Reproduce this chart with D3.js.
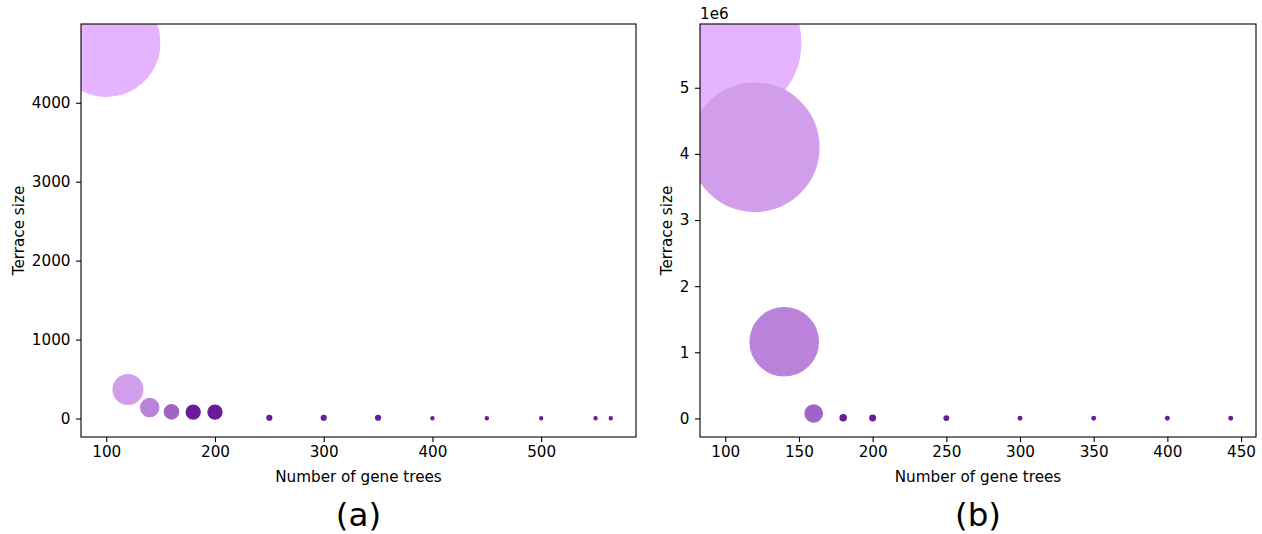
<!DOCTYPE html>
<html>
<head>
<meta charset="utf-8">
<script src="https://cdn.jsdelivr.net/npm/d3@7"></script>
<style>
  body { margin: 0; background: white; }
  text { font-family: "DejaVu Sans", sans-serif; fill: black; }
</style>
</head>
<body>
<div id="chart"></div>
<script>
// panel (a)
const treesA = [100, 120, 140, 160, 180, 200, 250, 300, 350, 400, 450, 500, 550, 564]
const terraceA = [4760, 367, 139, 85, 82, 82, 10, 10, 10, 4, 4, 4, 4, 4]

// panel (b)
const treesB = [100, 120, 140, 160, 180, 200, 250, 300, 350, 400, 443]
const terraceB = [5680000, 4100000, 1160000, 75000, 9600, 7800, 5300, 3300, 3300, 3300, 3300]

const xTitle = "Number of gene trees"
const yTitle = "Terrace size"

const W = 1262, H = 534
const fs = "15.2px"

const svg = d3.select("#chart").append("svg")
    .attr("width", W)
    .attr("height", H)

// colour goes from light lavender (few gene trees) to deep purple
const color = d3.scaleLinear()
    .domain([100, 120, 140, 160, 180])
    .range(["#e6b4ff", "#d29eec", "#bb82dc", "#a164c6", "#6a1b9a"])
    .clamp(true)

function padded(vals) {
    const [lo, hi] = d3.extent(vals)
    const m = (hi - lo) * 0.05
    return [lo - m, hi + m]
}

function panel(opts) {
    const {left, right, top, bottom, xs, ys, rmax, xTicks, yTicks, yFormat, label, id, exponent} = opts
    const data = xs.map((x, i) => ({trees: x, terrace: ys[i]}))
    const w = right - left, h = bottom - top

    const g = svg.append("g").attr("transform", `translate(${left},${top})`)

    const x = d3.scaleLinear().domain(padded(xs)).range([0, w])
    const y = d3.scaleLinear().domain(padded(ys)).range([h, 0])
    const r = d3.scaleSqrt().domain([0, d3.max(ys)]).range([0, rmax])

    g.append("clipPath").attr("id", id)
        .append("rect").attr("width", w).attr("height", h)

    g.append("g")
        .attr("clip-path", `url(#${id})`)
        .selectAll("circle")
        .data(data)
        .join("circle")
            .attr("cx", d => x(d.trees))
            .attr("cy", d => y(d.terrace))
            .attr("r", d => r(d.terrace))
            .attr("fill", d => color(d.trees))
            .attr("stroke", d => color(d.trees))
            .attr("stroke-width", 1.3)

    const xAx = d3.axisBottom(x).ticks(xTicks).tickSize(5).tickPadding(4).tickFormat(d3.format("d"))
    const yAx = d3.axisLeft(y).ticks(yTicks).tickSize(5).tickPadding(5.5)
        .tickFormat(yFormat || d3.format("d"))

    const xGroup = g.append("g")
        .attr("transform", `translate(0,${h})`)
        .call(xAx)
    const yGroup = g.append("g").call(yAx)

    for (const ag of [xGroup, yGroup]) {
        ag.select(".domain").remove()
        ag.attr("font-size", null).attr("font-family", null)
        ag.selectAll(".tick line").attr("stroke", "black").attr("stroke-width", 1.1)
        ag.selectAll(".tick text")
            .style("font-size", fs)
            .attr("fill", "black")
    }

    // axes frame
    g.append("rect")
        .attr("width", w).attr("height", h)
        .attr("fill", "none")
        .attr("stroke", "black")
        .attr("stroke-width", 1.1)

    g.append("text")
        .attr("x", w / 2)
        .attr("y", h + 45)
        .attr("text-anchor", "middle")
        .style("font-size", fs)
        .text(xTitle)

    // y title sits just left of the widest tick label
    const yLabLeft = yGroup.node().getBBox().x
    g.append("text")
        .attr("transform", `translate(${yLabLeft - 8},${h / 2}) rotate(-90)`)
        .attr("text-anchor", "middle")
        .style("font-size", fs)
        .text(yTitle)

    if (exponent) {
        g.append("text")
            .attr("x", 0)
            .attr("y", -5)
            .style("font-size", fs)
            .text(exponent)
    }

    g.append("text")
        .attr("x", w / 2)
        .attr("y", h + 89)
        .attr("text-anchor", "middle")
        .style("font-size", "32.5px")
        .text(label)
}

panel({
    left: 81, right: 636, top: 24, bottom: 437,
    xs: treesA, ys: terraceA, rmax: 53.5,
    xTicks: 5, yTicks: 5, label: "(a)", id: "clipA"
})

panel({
    left: 700, right: 1256, top: 24, bottom: 437,
    xs: treesB, ys: terraceB, rmax: 75.5,
    xTicks: 8, yTicks: 6, yFormat: d => d3.format("d")(d / 1e6),
    label: "(b)", id: "clipB", exponent: "1e6"
})
</script>
</body>
</html>
